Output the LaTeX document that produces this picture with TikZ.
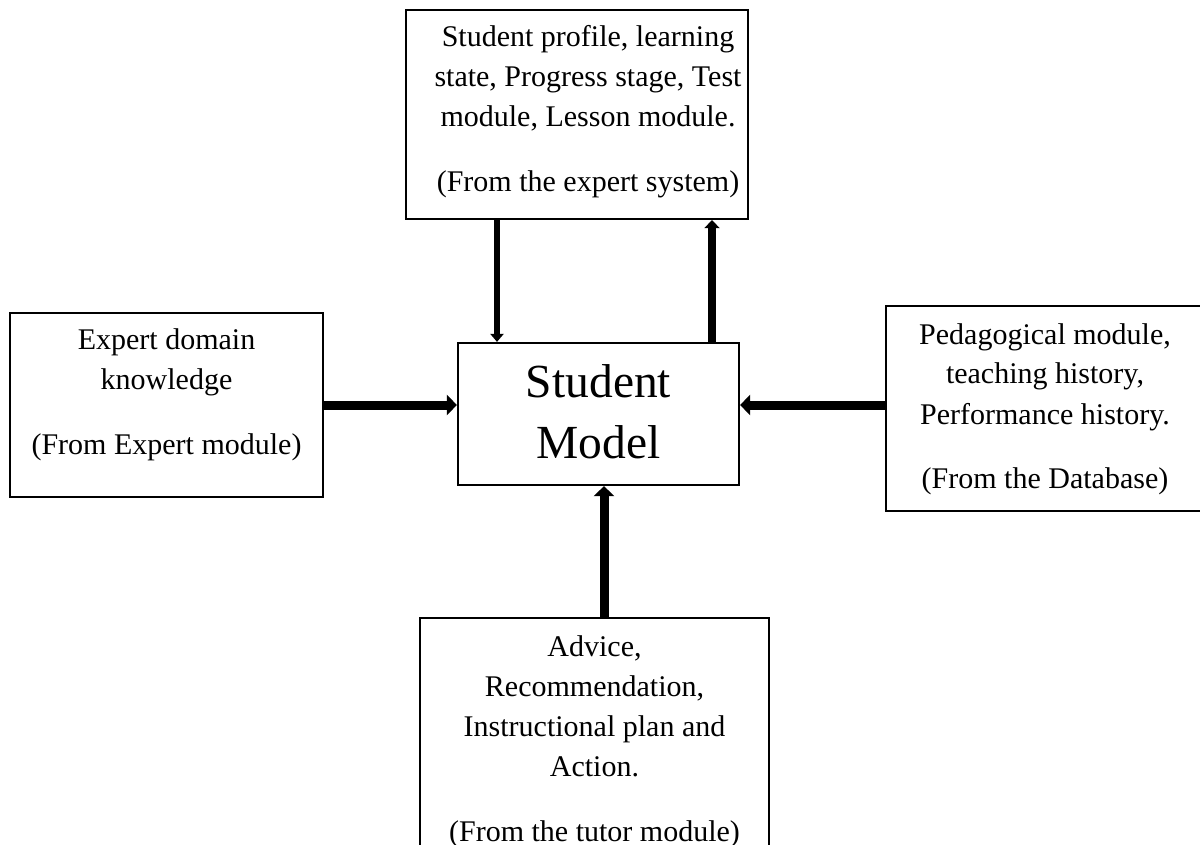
\documentclass[tikz,border=0pt]{standalone}
\usepackage{fontspec}
\setmainfont{Liberation Serif}
\usetikzlibrary{arrows.meta}
\tikzset{
  box/.style={draw, line width=1.1pt, rectangle, inner sep=0pt},
  txt/.style={anchor=base, inner sep=0pt, font=\fontsize{15pt}{20pt}\selectfont},
  bigtxt/.style={anchor=base, inner sep=0pt, font=\fontsize{23.75pt}{31pt}\selectfont},
  bigarrow/.style={line width=4.5pt, -{Triangle[width=10pt,length=5pt]}},
  uparrow/.style={line width=4pt, -{Triangle[width=7.5pt,length=4pt]}},
  dnarrow/.style={line width=3pt, -{Triangle[width=6.5pt,length=4pt]}}
}
\newcommand{\gap}{\\[12.5pt]}
\begin{document}
\begin{tikzpicture}[x=0.5pt,y=-0.5pt]
\useasboundingbox (0,0) rectangle (1200,845);
\fill[white] (0,0) rectangle (1200,845);
\clip (0,0) rectangle (1200,845);
% boxes
\node[box, minimum width=171pt, minimum height=104.5pt] (top) at (577,114.5) {};
\node[box, minimum width=156.5pt, minimum height=92pt] (left) at (166.5,405) {};
\node[box, minimum width=140.5pt, minimum height=71pt] (center) at (598.5,414) {};
\node[box, minimum width=159pt, minimum height=102.5pt] (right) at (1045,408.5) {};
\node[box, minimum width=174.5pt, minimum height=141pt] (bottom) at (594.5,759) {};
% texts
\node[txt] (toptxt) at (588,47) {\begin{tabular}[t]{@{}c@{}}Student profile, learning\\ state, Progress stage, Test\\ module, Lesson module.\gap (From the expert system)\end{tabular}};
\node[txt] (lefttxt) at (166.5,350) {\begin{tabular}[t]{@{}c@{}}Expert domain\\ knowledge\gap (From Expert module)\end{tabular}};
\node[bigtxt] (centertxt) at (598.5,397) {\begin{tabular}[t]{@{}c@{}}Student\\ Model\end{tabular}};
\node[txt] (righttxt) at (1045,344) {\begin{tabular}[t]{@{}c@{}}Pedagogical module,\\ teaching history,\\ Performance history.\gap (From the Database)\end{tabular}};
\node[txt] (bottomtxt) at (594.5,656) {\begin{tabular}[t]{@{}c@{}}Advice,\\ Recommendation,\\ Instructional plan and\\ Action.\gap (From the tutor module)\end{tabular}};
% connector positions
\coordinate (xd) at (497,0);
\coordinate (xu) at (712,0);
\coordinate (xb) at (604,0);
\coordinate (yh) at (0,405);
% connectors
\draw[dnarrow] (top.south -| xd) -- (center.north -| xd);
\draw[uparrow] (center.north -| xu) -- (top.south -| xu);
\draw[bigarrow] (left.east |- yh) -- (center.west |- yh);
\draw[bigarrow] (right.west |- yh) -- (center.east |- yh);
\draw[bigarrow] (bottom.north -| xb) -- (center.south -| xb);
\end{tikzpicture}
\end{document}
